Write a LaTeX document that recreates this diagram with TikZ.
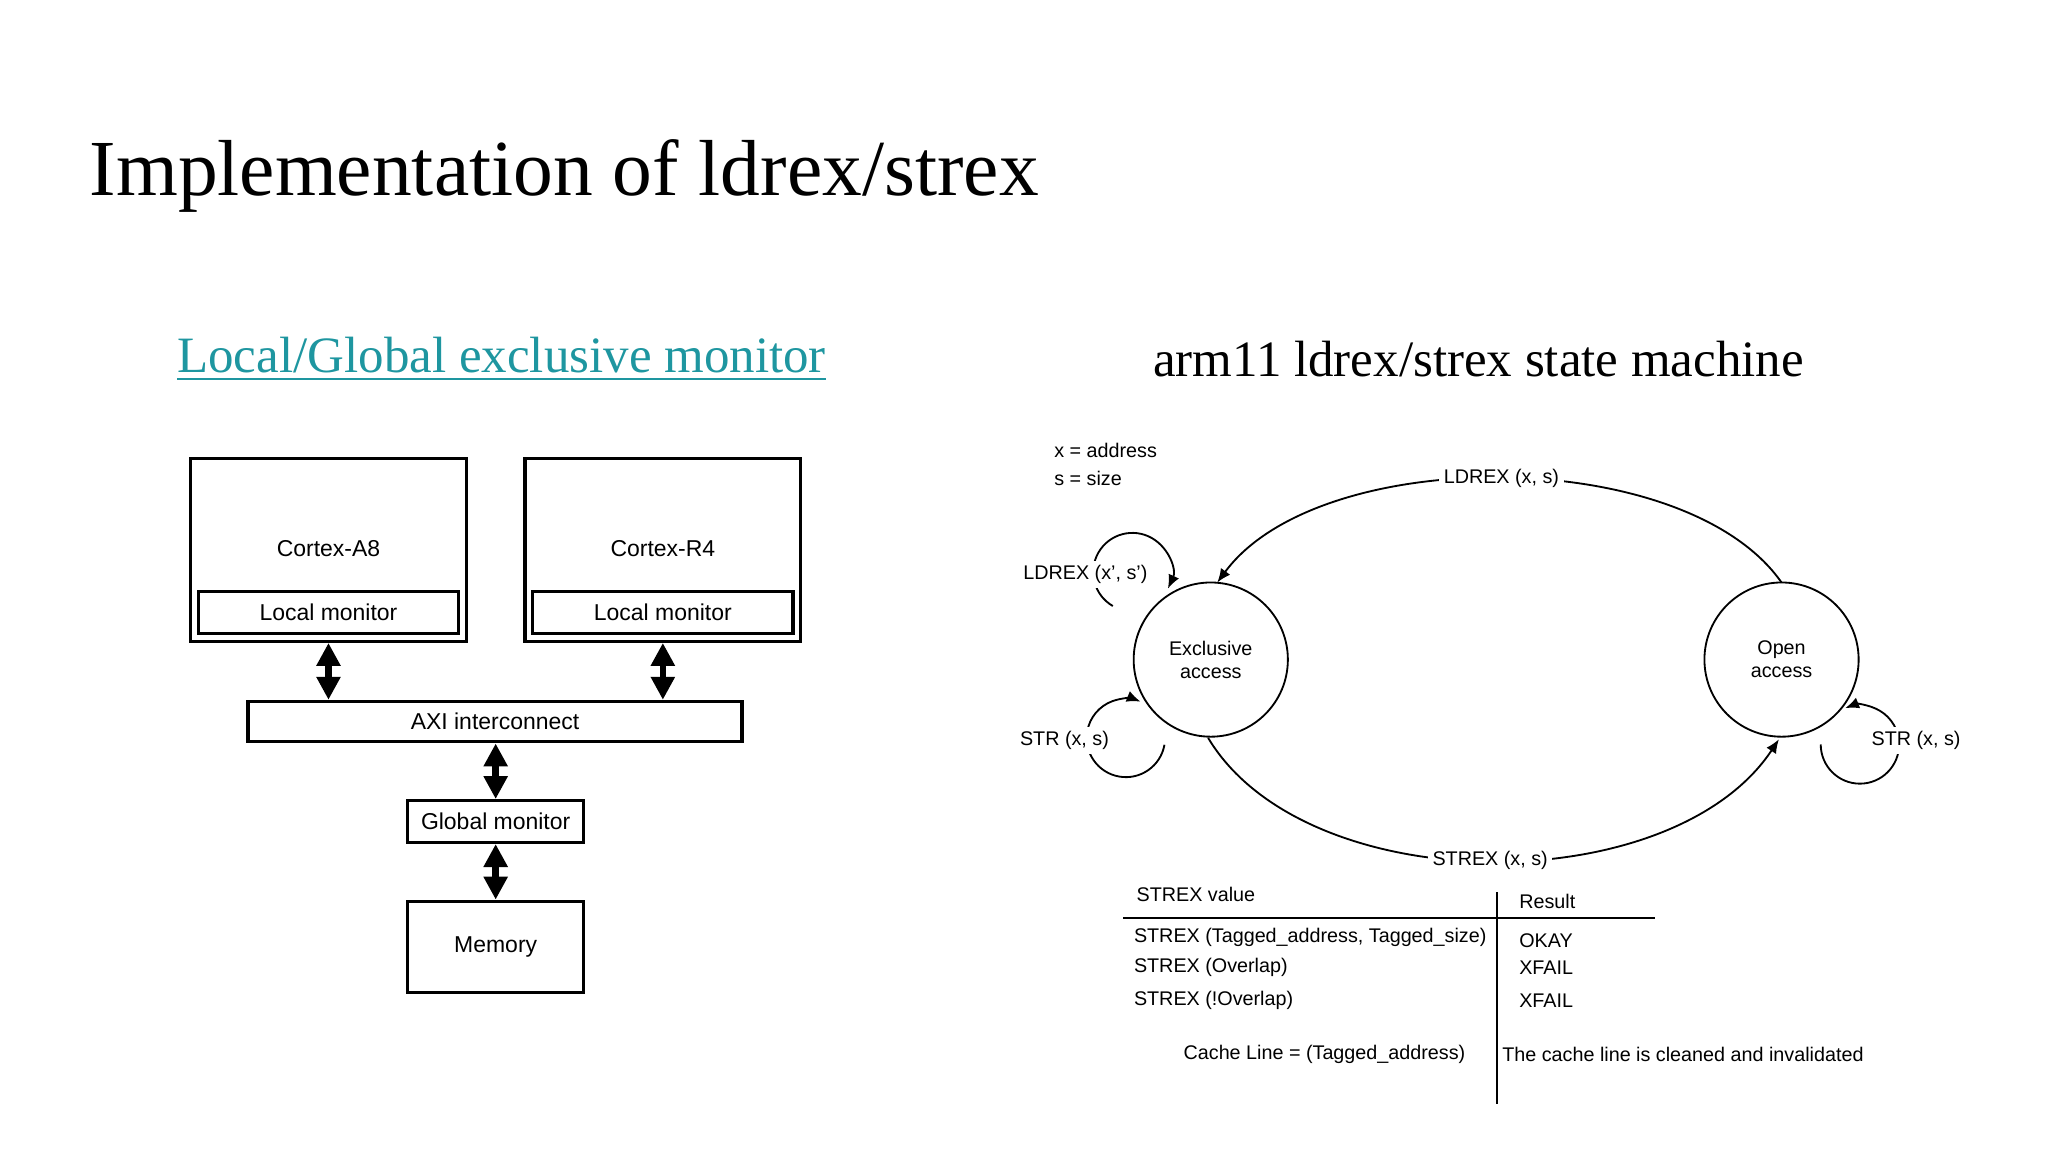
\documentclass[tikz,border=0pt]{standalone}
\usepackage{fontspec}
\setmainfont{Liberation Sans}
\newfontfamily\titlefont{Liberation Serif}
\usetikzlibrary{arrows.meta, positioning, calc}
\definecolor{linkteal}{RGB}{30,150,160}
\tikzset{
  box/.style={draw, line width=0.7pt, rectangle, inner sep=0pt, font=\fontsize{5}{6}\selectfont},
  state/.style={draw, circle, minimum size=1.18cm, inner sep=0pt, align=center, font=\fontsize{4.3}{5}\selectfont},
  lbl/.style={font=\fontsize{4.3}{5}\selectfont, inner sep=1pt},
  bus/.style={{Triangle[width=5pt,length=5pt]}-{Triangle[width=5pt,length=5pt]}, line width=1.4pt},
  tr/.style={-{Latex[length=3pt,width=2.5pt]}, line width=0.4pt}
}
\begin{document}
\begin{tikzpicture}[x=0.01cm, y=-0.01cm]
  \useasboundingbox (0,0) rectangle (1568,882);
  % titles
  \node[anchor=base west, inner sep=0pt, font=\titlefont\fontsize{17.3}{20}\selectfont] (title) at (68,150) {Implementation of ldrex/strex};
  \node[inner sep=0pt, text=linkteal, font=\titlefont\fontsize{11.1}{13}\selectfont] (ltitle) at (384,275) {\underline{Local/Global exclusive monitor}};
  \node[inner sep=0pt, font=\titlefont\fontsize{11.1}{13}\selectfont] (rtitle) at (1132,275) {arm11 ldrex/strex state machine};

  % left: monitors
  \node[box, minimum width=2.11cm, minimum height=1.4cm] (a8) at (251.5,421) {};
  \node[box, minimum width=2.11cm, minimum height=1.4cm] (r4) at (507.5,421) {};
  \node[box, draw=none] (a8t) at (251.5,420) {Cortex-A8};
  \node[box, draw=none] (r4t) at (507.5,420) {Cortex-R4};
  \node[box, minimum width=1.99cm, minimum height=0.32cm] (lm1) at (251.5,469) {Local monitor};
  \node[box, minimum width=1.99cm, minimum height=0.32cm] (lm2) at (507.5,469) {Local monitor};
  \node[box, minimum width=3.78cm, minimum height=0.31cm] (axi) at (379,552.5) {AXI interconnect};
  \node[box, minimum width=1.35cm, minimum height=0.32cm] (gm) at (379.5,629) {Global monitor};
  \node[box, minimum width=1.35cm, minimum height=0.7cm] (mem) at (379.5,725) {Memory};
  \draw[bus] (a8.south) -- (a8.south |- axi.north);
  \draw[bus] (r4.south) -- (r4.south |- axi.north);
  \draw[bus] (axi.south -| gm.north) -- (gm.north);
  \draw[bus] (gm.south) -- (mem.north);

  % right: state machine
  \node[lbl, anchor=west] (xa) at (803,345) {x = address};
  \node[lbl, anchor=west] (ss) at (803,366) {s = size};
  \node[state] (exc) at (927,505) {Exclusive\\access};
  \node[state] (open) at (1364,505) {Open\\access};
  \coordinate (otop) at (1364,446);
  \coordinate (etop) at (932,446);
  \coordinate (ebot) at (925,565);
  \coordinate (obot) at (1362,566);
  \draw[tr] (otop) .. controls (1290,340) and (1010,340) .. node[lbl, fill=white] {LDREX (x, s)} (etop);
  \draw[tr] (ebot) .. controls (1000,690) and (1280,690) .. node[lbl, fill=white] {STREX (x, s)} (obot);
  % self loops
  \coordinate (ldl) at ($(867,438)+(120:30)$);
  \coordinate (stl) at ($(862,565)+(10:30)$);
  \coordinate (osl) at ($(1424,570)+(180:30)$);
  \draw[tr] (ldl) arc[start angle=120, end angle=385, radius=30];
  \draw[tr] (stl) arc[start angle=10, end angle=292, radius=30];
  \draw[tr] (osl) arc[start angle=180, end angle=-112, radius=30];
  \node[lbl, fill=white] (ldlbl) at (831,440) {LDREX (x', s')};
  \node[lbl, fill=white] (stlbl) at (815,567) {STR (x, s)};
  \node[lbl, fill=white] (oslbl) at (1467,567) {STR (x, s)};

  % table
  \coordinate (hl) at (860,703);
  \coordinate (hr) at (1267,703);
  \coordinate (vt) at (1146,683);
  \coordinate (vb) at (1146,845);
  \draw[line width=0.5pt] (hl) -- (hr);
  \draw[line width=0.5pt] (vt) -- (vb);
  \node[lbl, anchor=west] (h1) at (866,685) {STREX value};
  \node[lbl, anchor=west] (h2) at (1159,690) {Result};
  \node[lbl, anchor=west] (r1) at (864,718) {STREX (Tagged\_address, Tagged\_size)};
  \node[lbl, anchor=west] (r2) at (864,741) {STREX (Overlap)};
  \node[lbl, anchor=west] (r3) at (864,766) {STREX (!Overlap)};
  \node[lbl, anchor=west] (s1) at (1159,720) {OKAY};
  \node[lbl, anchor=west] (s2) at (1159,741) {XFAIL};
  \node[lbl, anchor=west] (s3) at (1159,766) {XFAIL};
  \node[lbl, anchor=west] (c1) at (902,807) {Cache Line = (Tagged\_address)};
  \node[lbl, anchor=west] (c2) at (1146,807) {The cache line is cleaned and invalidated};
\end{tikzpicture}
\end{document}
